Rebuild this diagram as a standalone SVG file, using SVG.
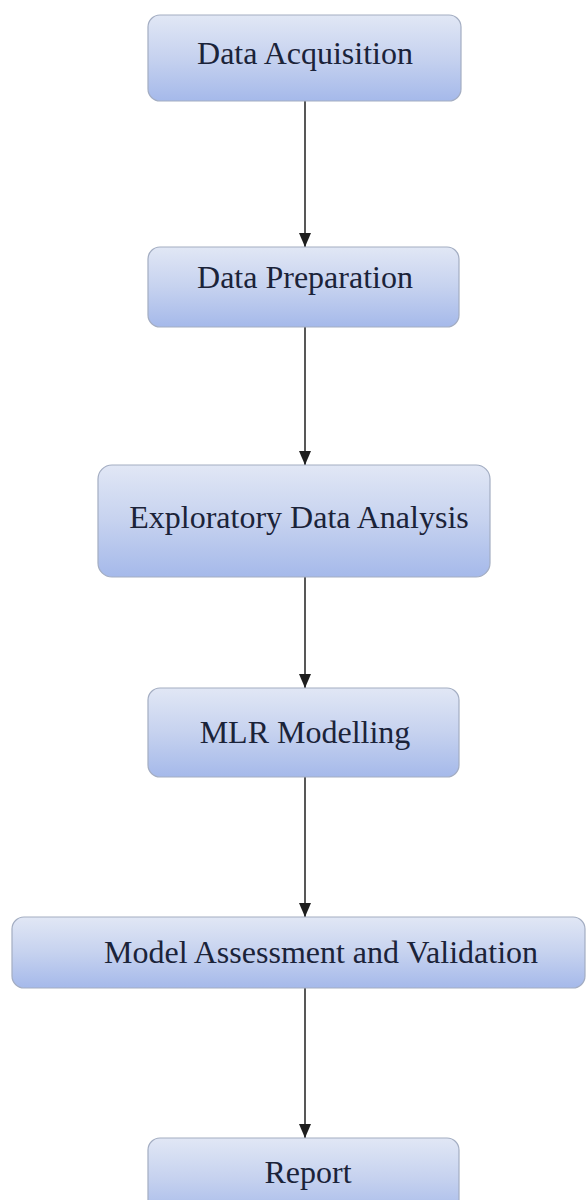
<svg xmlns="http://www.w3.org/2000/svg" width="587" height="1200" viewBox="0 0 587 1200">
  <style>
    .box { fill: url(#boxFill); stroke: #a3adc2; stroke-width: 1.2; }
    .label { font-family: "Liberation Serif", "Times New Roman", serif; font-size: 32px; fill: #1b2339; text-anchor: middle; }
    .link { stroke: #2e2e2e; stroke-width: 1.6; fill: none; marker-end: url(#arrow); }
  </style>
  <defs>
    <linearGradient id="boxFill" x1="0" y1="0" x2="0" y2="1">
      <stop offset="0" stop-color="#e1e7f5"/>
      <stop offset="0.5" stop-color="#c6d2ef"/>
      <stop offset="1" stop-color="#a5b9ea"/>
    </linearGradient>
    <!-- arrowhead drawn along +x so orient="auto" turns it to the line direction -->
    <marker id="arrow" viewBox="0 0 14 12" refX="14" refY="6" markerWidth="14" markerHeight="12" markerUnits="userSpaceOnUse" orient="auto">
      <path d="M0,0 L14,6 L0,12 Z" fill="#1e1e1e"/>
    </marker>
  </defs>

  <rect width="587" height="1200" fill="#ffffff"/>

  <!-- connectors -->
  <g id="connectors">
    <line class="link" x1="305" y1="101" x2="305" y2="247"/>
    <line class="link" x1="305" y1="327" x2="305" y2="465"/>
    <line class="link" x1="305" y1="577" x2="305" y2="688"/>
    <line class="link" x1="305" y1="777" x2="305" y2="917"/>
    <line class="link" x1="305" y1="988" x2="305" y2="1138"/>
  </g>

  <!-- process steps -->
  <g id="data-acquisition">
    <rect class="box" x="148" y="15" width="313" height="86" rx="12"/>
    <text class="label" x="305" y="64">Data Acquisition</text>
  </g>
  <g id="data-preparation">
    <rect class="box" x="148" y="247" width="311" height="80" rx="12"/>
    <text class="label" x="305" y="288">Data Preparation</text>
  </g>
  <g id="exploratory-data-analysis">
    <rect class="box" x="98" y="465" width="392" height="112" rx="14"/>
    <text class="label" x="299" y="528">Exploratory Data Analysis</text>
  </g>
  <g id="mlr-modelling">
    <rect class="box" x="148" y="688" width="311" height="89" rx="12"/>
    <text class="label" x="305" y="743">MLR Modelling</text>
  </g>
  <g id="model-assessment">
    <rect class="box" x="12" y="917" width="573" height="71" rx="12"/>
    <text class="label" x="321" y="963">Model Assessment and Validation</text>
  </g>
  <g id="report">
    <rect class="box" x="148" y="1138" width="311" height="80" rx="12"/>
    <text class="label" x="308" y="1183">Report</text>
  </g>
</svg>
